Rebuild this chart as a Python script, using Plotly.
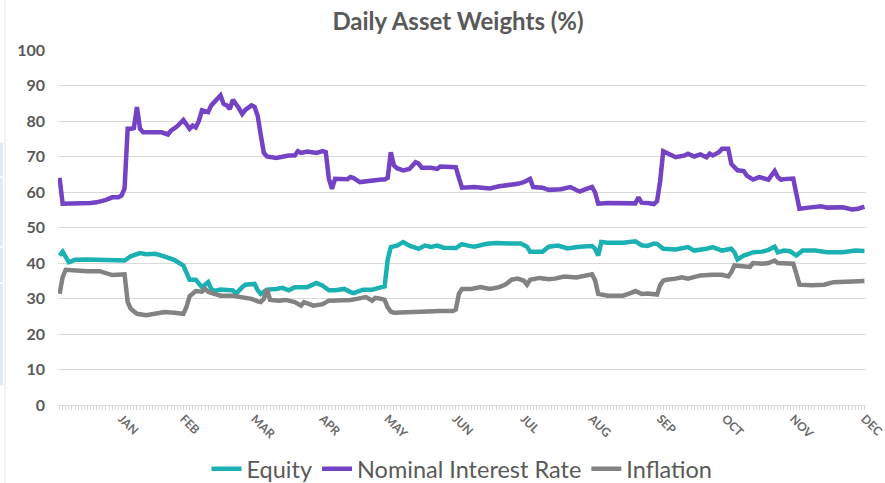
import pandas as pd
import plotly.graph_objects as go

# Trading-day calendar for the year (weekdays only); the series are indexed by trading day
days = pd.bdate_range("2021-01-01", "2021-12-31")
n_days = len(days)

# Month labels sit on the last trading day of each month
month_end_idx = [int(pd.Series(range(n_days), index=days)[days.month == m].iloc[-1]) for m in range(1, 13)]
month_labels = ["JAN", "FEB", "MAR", "APR", "MAY", "JUN", "JUL", "AUG", "SEP", "OCT", "NOV", "DEC"]

# Daily weights (%), given at trading-day breakpoints
nominal_day = [0, 1, 10, 12, 15, 17, 19, 20, 21, 22, 23, 24, 25, 26, 27, 33, 35, 36, 38, 39, 40, 42, 43, 44,
               45, 46, 48, 49, 50, 52, 53, 54, 55, 56, 58, 59, 60, 62, 63, 64, 65, 66, 67, 70, 74, 76, 77, 78,
               80, 83, 85, 86, 87, 88, 89, 91, 93, 94, 95, 97, 100, 102, 104, 105, 106, 107, 108, 109, 111,
               113, 115, 116, 117, 120, 122, 123, 127, 128, 129, 130, 134, 139, 142, 145, 148, 150, 152, 153,
               156, 158, 162, 165, 168, 170, 172, 173, 174, 177, 180, 184, 186, 187, 188, 190, 192, 193, 194,
               195, 199, 202, 203, 205, 207, 209, 210, 211, 213, 214, 216, 217, 219, 221, 222, 224, 226, 229,
               231, 232, 233, 235, 237, 238, 239, 242, 246, 248, 253, 256, 258, 260]
nominal_val = [64.0, 56.7, 56.9, 57.1, 57.8, 58.5, 58.5, 59.0, 61.0, 77.8, 77.8, 78.0, 83.9, 77.8, 76.8, 76.8,
               76.2, 77.3, 78.5, 79.4, 80.3, 77.8, 78.7, 78.2, 80.0, 83.0, 82.5, 84.4, 85.3, 87.2, 84.8, 84.4,
               83.4, 86.0, 83.5, 82.0, 83.1, 84.4, 84.0, 81.5, 76.0, 71.0, 70.0, 69.6, 70.3, 70.3, 71.5, 71.0,
               71.4, 71.0, 71.5, 71.2, 63.7, 60.9, 63.7, 63.6, 63.6, 64.2, 63.9, 62.8, 63.2, 63.2, 63.5, 63.5,
               64.0, 71.2, 67.5, 66.7, 66.1, 66.5, 68.4, 68.0, 66.8, 66.8, 66.5, 67.2, 67.2, 67.0, 64.0, 61.2,
               61.4, 61.0, 61.6, 61.8, 62.3, 62.8, 63.7, 61.4, 61.2, 60.6, 60.8, 61.4, 60.1, 60.8, 61.4, 59.9,
               56.7, 56.9, 56.8, 56.7, 56.8, 58.5, 57.0, 56.9, 56.6, 57.4, 63.0, 71.5, 69.8, 70.3, 70.8, 70.0,
               70.6, 69.8, 70.8, 70.3, 71.2, 72.2, 72.2, 67.9, 66.1, 65.9, 64.6, 63.5, 64.2, 63.5, 65.9, 64.2,
               63.5, 63.7, 63.8, 59.5, 55.3, 55.6, 56.0, 55.6, 55.7, 55.1, 55.3, 55.9]

equity_day = [0, 1, 3, 5, 9, 15, 20, 21, 23, 26, 28, 31, 34, 37, 40, 41, 42, 44, 45, 46, 48, 49, 50, 52, 56,
              57, 59, 60, 63, 64, 65, 67, 70, 72, 74, 76, 80, 83, 85, 87, 89, 92, 94, 95, 98, 101, 104, 105,
              106, 107, 109, 111, 113, 116, 118, 120, 122, 124, 128, 130, 132, 134, 138, 141, 145, 149, 151,
              152, 156, 158, 161, 164, 168, 172, 173, 174, 175, 177, 182, 186, 188, 190, 192, 193, 195, 199,
              203, 205, 209, 211, 214, 217, 218, 219, 221, 224, 227, 229, 231, 232, 234, 236, 238, 240, 244,
              248, 253, 257, 260]
equity_val = [42.1, 43.2, 40.2, 40.9, 41.0, 41.0, 40.7, 40.7, 41.9, 42.8, 42.5, 42.6, 41.8, 40.9, 39.3, 37.4,
              35.3, 35.3, 34.1, 33.2, 34.6, 32.7, 32.1, 32.5, 32.3, 31.3, 33.2, 33.9, 34.1, 32.3, 31.3, 32.5,
              32.7, 33.0, 32.3, 33.2, 33.2, 34.4, 33.6, 32.3, 32.3, 32.7, 31.8, 31.5, 32.5, 32.5, 33.2, 33.4,
              41.0, 44.5, 44.9, 45.9, 44.9, 44.0, 44.9, 44.5, 44.9, 44.3, 44.2, 45.3, 44.9, 44.6, 45.4, 45.6,
              45.5, 45.5, 44.6, 43.2, 43.2, 44.6, 44.9, 44.1, 44.6, 44.8, 44.0, 42.1, 45.9, 45.7, 45.7, 46.1,
              45.0, 44.8, 45.5, 45.4, 44.0, 43.8, 44.5, 43.5, 44.0, 44.5, 43.5, 44.0, 43.0, 41.0, 42.1, 43.0,
              43.2, 43.7, 44.6, 43.0, 43.5, 43.3, 42.1, 43.5, 43.5, 43.0, 43.0, 43.5, 43.4]

inflation_day = [0, 1, 2, 5, 9, 13, 15, 17, 21, 22, 23, 25, 28, 31, 34, 37, 40, 41, 42, 44, 46, 47, 48, 50,
                 52, 56, 59, 62, 64, 65, 66, 67, 68, 71, 73, 76, 78, 79, 82, 85, 87, 91, 94, 96, 99, 101, 102,
                 104, 105, 106, 107, 108, 112, 116, 120, 123, 127, 128, 129, 130, 133, 136, 139, 142, 144, 146,
                 148, 150, 151, 152, 155, 158, 160, 163, 167, 169, 172, 173, 174, 177, 182, 184, 186, 188, 190,
                 193, 194, 195, 196, 199, 201, 203, 205, 207, 211, 214, 216, 217, 218, 221, 223, 224, 227, 229,
                 231, 232, 235, 237, 238, 239, 243, 247, 250, 254, 257, 260]
inflation_val = [31.3, 36.0, 38.1, 37.8, 37.7, 37.7, 37.0, 36.6, 36.8, 29.0, 27.1, 25.7, 25.3, 25.9, 26.2, 26.0,
                 25.7, 27.6, 30.6, 32.1, 31.9, 32.7, 31.9, 31.3, 30.8, 30.8, 30.4, 29.9, 29.2, 29.0, 29.9, 32.7,
                 29.6, 29.4, 29.6, 29.0, 28.0, 29.0, 28.0, 28.4, 29.4, 29.4, 29.6, 29.9, 30.4, 29.4, 30.2, 29.9,
                 29.6, 27.5, 26.3, 26.0, 26.2, 26.4, 26.5, 26.5, 26.5, 26.9, 31.3, 32.7, 32.7, 33.2, 32.7, 33.2,
                 33.9, 35.3, 35.6, 35.0, 33.9, 35.3, 35.8, 35.4, 35.6, 36.2, 35.9, 36.2, 36.8, 35.1, 31.3, 30.8,
                 30.8, 31.4, 32.1, 31.3, 31.4, 31.1, 33.7, 35.0, 35.3, 35.6, 36.0, 35.6, 36.0, 36.5, 36.7, 36.7,
                 36.2, 37.4, 39.3, 39.1, 38.9, 40.0, 39.8, 40.0, 40.7, 40.0, 40.0, 39.8, 37.0, 33.9, 33.7, 33.9,
                 34.6, 34.6, 34.8, 34.9]

series = [
    ("Equity", equity_day, equity_val, "#1BB0B2"),
    ("Nominal Interest Rate", nominal_day, nominal_val, "#7442C4"),
    ("Inflation", inflation_day, inflation_val, "#828282"),
]

TEXT = "#595959"
GRID = "#D9D9D9"
FONT = "Lato, Carlito, Liberation Sans, sans-serif"

fig = go.Figure()
for name, xs, ys, color in series:
    fig.add_trace(go.Scatter(
        x=xs, y=ys, name=name, mode="lines",
        line=dict(color=color, width=4.5, shape="linear"),
    ))

W, H = 885, 483
ML, MR, MT, MB = 58, 19, 50, 78
PW, PH = W - ML - MR, H - MT - MB

# Light selection strip and frame edge on the left border
def px_x(p):
    return (p - ML) / PW

def px_y(p):
    return (H - MB - p) / PH

shapes = []
for top, bot in [(143, 176), (178, 246), (248, 282), (284, 385)]:
    shapes.append(dict(type="rect", xref="paper", yref="paper",
                       x0=px_x(0), x1=px_x(3), y0=px_y(bot), y1=px_y(top),
                       fillcolor="#DDEBF7", line=dict(width=0), layer="above"))
shapes.append(dict(type="line", xref="paper", yref="paper",
                   x0=px_x(5), x1=px_x(5), y0=px_y(H), y1=px_y(0),
                   line=dict(color="#E6E6E6", width=1)))

fig.update_layout(
    width=W, height=H,
    margin=dict(l=ML, r=MR, t=MT, b=MB, pad=0, autoexpand=False),
    paper_bgcolor="white", plot_bgcolor="white",
    font=dict(family=FONT, color=TEXT),
    title=dict(text="<b>Daily Asset Weights (%)</b>", xref="paper", x=px_x(458), xanchor="center",
               y=1 - 22 / H, yanchor="middle", font=dict(size=24, color=TEXT, family=FONT)),
    xaxis=dict(
        range=[-0.5, n_days - 0.5], automargin=False,
        tickmode="array", tickvals=month_end_idx, ticktext=["<b>%s</b>" % m for m in month_labels],
        tickangle=45, tickfont=dict(size=12, color="#6A6A6A", family=FONT),
        ticks="outside", ticklen=4, tickcolor=GRID, tickwidth=1,
        minor=dict(dtick=1, tick0=0, ticks="outside", ticklen=4, tickcolor=GRID, tickwidth=1, showgrid=False),
        showgrid=False, zeroline=False, showline=True, linecolor=GRID, linewidth=1,
        ticklabelstandoff=-3, ticklabeloverflow="allow",
    ),
    yaxis=dict(
        range=[0, 100], dtick=10, tick0=0, automargin=False,
        showgrid=True, gridcolor=GRID, gridwidth=1, zeroline=False, showline=False,
        tickfont=dict(size=16, color=TEXT, family=FONT), ticklabelstandoff=12,
        tickprefix="<b>", ticksuffix="</b>",
    ),
    legend=dict(
        orientation="h", x=0.5, xanchor="center", xref="paper",
        y=(H - 469) / H, yanchor="middle", yref="container",
        font=dict(size=23.5, color=TEXT, family=FONT), itemwidth=30,
        bgcolor="rgba(0,0,0,0)", tracegroupgap=0,
    ),
    shapes=shapes,
)

fig.write_html("out.html")
